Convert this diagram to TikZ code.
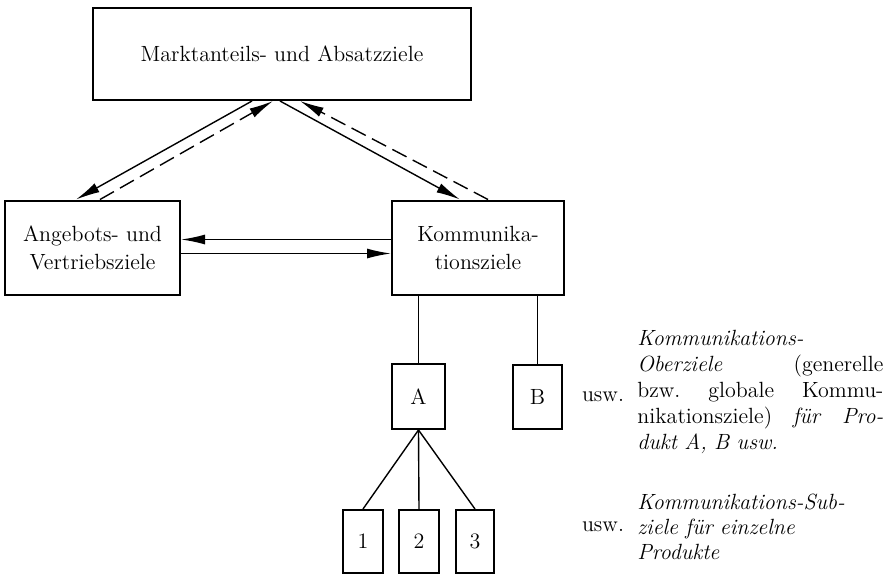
\documentclass[tikz,border=0pt]{standalone}
\usetikzlibrary{arrows.meta}
\begin{document}
\begin{tikzpicture}[node distance={28pt},
  main/.style = {draw, line width=1pt, inner sep=0pt, align=center, font=\fontsize{11}{14}\selectfont},
  pfeil/.style = {line width=0.7pt, -{Latex[length=12pt,width=5pt]}},
  strich/.style = {pfeil, dash pattern=on 8pt off 3.5pt},
  txt/.style = {font=\fontsize{11}{13}\selectfont}]
\useasboundingbox (0,0) rectangle (442.5pt,-287.5pt);
\node[main, minimum width=189pt, minimum height=46pt] (1) at (141pt,-27pt) {Marktanteils- und Absatzziele};
\node[main, minimum width=87.5pt, minimum height=47pt] (2) at (46.25pt,-123.75pt) {Angebots- und\\Vertriebsziele};
\node[main, minimum width=86pt, minimum height=47pt] (3) [node distance=192.75pt, right of=2] {Kommunika-\\tionsziele};
\node[main, minimum width=26.5pt, minimum height=32.5pt] (4) at (209.25pt,-198.25pt) {A};
\node[main, minimum width=24.5pt, minimum height=32pt] (5) [node distance=59.5pt, right of=4] {B};
\node[main, minimum width=20pt, minimum height=31.5pt] (6) at (181.5pt,-270.75pt) {1};
\node[main, minimum width=20pt, minimum height=31.5pt] (7) [right of=6] {2};
\node[main, minimum width=19pt, minimum height=31.5pt] (8) [right of=7] {3};
\node[txt] (9) [node distance=32.75pt, right of=5] {usw.};
\node[txt] (10) at (301.5pt,-263.5pt) {usw.};
\node[txt, anchor=west, text width=123pt, align=left, inner sep=0pt] (11) at (318.5pt,-196pt)
  {\textit{Kommunikations-}\\
   \textit{Oberziele}\hfill(generelle\\
   bzw.\hfill globale\hfill Kommu-\\
   nikationsziele)\hfill\textit{für}\hfill\textit{Pro-}\\
   \textit{dukt A, B usw.}};
\node[txt, font=\fontsize{11}{12.5}\selectfont, anchor=west, text width=123pt, align=left, inner sep=0pt] (12) at (318.5pt,-263.5pt)
  {\textit{Kommunikations-Sub-}\\
   \textit{ziele für einzelne}\\
   \textit{Produkte}};
\draw[pfeil] ([xshift=-15pt]1.south) -- ([xshift=-8.25pt]2.north);
\draw[strich] ([xshift=3.75pt]2.north) -- ([xshift=-4.5pt]1.south);
\draw[pfeil] ([xshift=-1pt]1.south) -- ([xshift=-9pt]3.north);
\draw[strich] ([xshift=5pt]3.north) -- ([xshift=9pt]1.south);
\draw[pfeil] ([yshift=4pt]3.west) -- ([yshift=4pt]2.east);
\draw[pfeil] ([yshift=-3pt]2.east) -- ([yshift=-3pt]3.west);
\draw[line width=0.7pt] (4.north) -- (4.north |- 3.south);
\draw[line width=0.7pt] (5.north) -- (5.north |- 3.south);
\draw[line width=0.7pt] (4.south) -- (6.north);
\draw[line width=0.7pt] (4.south) -- (7.north);
\draw[line width=0.7pt] (4.south) -- (8.north);
\end{tikzpicture}
\end{document}
